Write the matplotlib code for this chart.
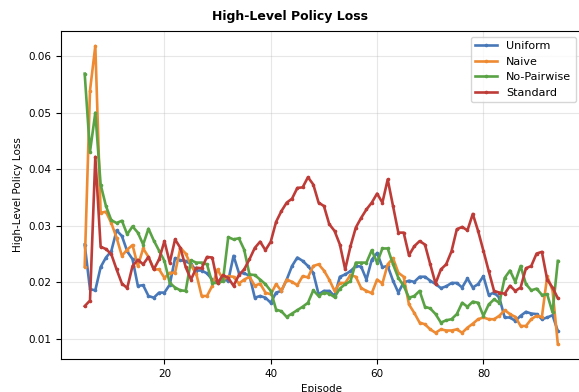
import numpy as np
import matplotlib
matplotlib.use("Agg")
import matplotlib.pyplot as plt

# episodes 5..94
episodes = list(range(5, 95))

uniform = [0.0267, 0.0188, 0.0186, 0.0227, 0.0244, 0.0255, 0.0292, 0.0282, 0.0255, 0.0241,
           0.0194, 0.0195, 0.0176, 0.0173, 0.0182, 0.0182, 0.0196, 0.0243, 0.0239, 0.0238,
           0.0232, 0.0221, 0.0221, 0.0216, 0.0205, 0.0200, 0.0205, 0.0203, 0.0247, 0.0217,
           0.0216, 0.0212, 0.0173, 0.0176, 0.0173, 0.0164, 0.0182, 0.0185, 0.0205, 0.0229,
           0.0244, 0.0238, 0.0229, 0.0217, 0.0179, 0.0185, 0.0185, 0.0176, 0.0210, 0.0214,
           0.0220, 0.0229, 0.0228, 0.0205, 0.0240, 0.0252, 0.0227, 0.0229, 0.0203, 0.0182,
           0.0200, 0.0203, 0.0201, 0.0210, 0.0210, 0.0203, 0.0197, 0.0190, 0.0193, 0.0199,
           0.0199, 0.0191, 0.0207, 0.0191, 0.0197, 0.0211, 0.0178, 0.0182, 0.0173, 0.0138,
           0.0138, 0.0132, 0.0141, 0.0148, 0.0145, 0.0144, 0.0135, 0.0138, 0.0142, 0.0114]

naive = [0.0228, 0.0539, 0.0618, 0.0323, 0.0325, 0.0305, 0.0279, 0.0247, 0.0258, 0.0266,
         0.0229, 0.0260, 0.0245, 0.0223, 0.0223, 0.0208, 0.0217, 0.0217, 0.0261, 0.0251,
         0.0230, 0.0215, 0.0176, 0.0176, 0.0194, 0.0223, 0.0205, 0.0211, 0.0210, 0.0198,
         0.0205, 0.0210, 0.0194, 0.0198, 0.0182, 0.0179, 0.0197, 0.0185, 0.0205, 0.0201,
         0.0195, 0.0211, 0.0209, 0.0229, 0.0232, 0.0221, 0.0205, 0.0185, 0.0199, 0.0199,
         0.0213, 0.0210, 0.0190, 0.0185, 0.0181, 0.0205, 0.0198, 0.0232, 0.0243, 0.0217,
         0.0210, 0.0161, 0.0146, 0.0129, 0.0126, 0.0117, 0.0111, 0.0117, 0.0115, 0.0115,
         0.0117, 0.0111, 0.0120, 0.0127, 0.0135, 0.0138, 0.0135, 0.0135, 0.0141, 0.0151,
         0.0144, 0.0139, 0.0123, 0.0123, 0.0135, 0.0141, 0.0139, 0.0211, 0.0186, 0.0091]

no_pairwise = [0.0569, 0.0431, 0.0500, 0.0373, 0.0335, 0.0310, 0.0305, 0.0309, 0.0285, 0.0299,
               0.0288, 0.0267, 0.0295, 0.0274, 0.0256, 0.0238, 0.0199, 0.0191, 0.0186, 0.0185,
               0.0239, 0.0235, 0.0235, 0.0232, 0.0199, 0.0199, 0.0202, 0.0280, 0.0276, 0.0278,
               0.0258, 0.0214, 0.0213, 0.0205, 0.0197, 0.0185, 0.0152, 0.0149, 0.0139, 0.0145,
               0.0151, 0.0157, 0.0164, 0.0186, 0.0176, 0.0182, 0.0180, 0.0174, 0.0189, 0.0197,
               0.0202, 0.0235, 0.0235, 0.0235, 0.0257, 0.0235, 0.0260, 0.0260, 0.0232, 0.0208,
               0.0194, 0.0173, 0.0176, 0.0185, 0.0157, 0.0154, 0.0144, 0.0129, 0.0133, 0.0135,
               0.0144, 0.0164, 0.0157, 0.0166, 0.0164, 0.0141, 0.0161, 0.0170, 0.0164, 0.0208,
               0.0221, 0.0201, 0.0229, 0.0197, 0.0186, 0.0189, 0.0178, 0.0179, 0.0147, 0.0238]

standard = [0.0158, 0.0168, 0.0422, 0.0263, 0.0259, 0.0250, 0.0223, 0.0198, 0.0190, 0.0229,
            0.0240, 0.0232, 0.0245, 0.0223, 0.0241, 0.0273, 0.0235, 0.0276, 0.0261, 0.0227,
            0.0205, 0.0226, 0.0225, 0.0245, 0.0244, 0.0199, 0.0213, 0.0208, 0.0194, 0.0213,
            0.0223, 0.0241, 0.0261, 0.0272, 0.0257, 0.0272, 0.0307, 0.0326, 0.0341, 0.0348,
            0.0367, 0.0368, 0.0386, 0.0373, 0.0341, 0.0335, 0.0303, 0.0291, 0.0267, 0.0223,
            0.0264, 0.0297, 0.0314, 0.0329, 0.0341, 0.0357, 0.0341, 0.0382, 0.0335, 0.0288,
            0.0288, 0.0248, 0.0264, 0.0273, 0.0267, 0.0232, 0.0198, 0.0223, 0.0232, 0.0255,
            0.0294, 0.0298, 0.0292, 0.0321, 0.0291, 0.0256, 0.0220, 0.0185, 0.0182, 0.0180,
            0.0194, 0.0185, 0.0191, 0.0225, 0.0229, 0.0251, 0.0254, 0.0205, 0.0191, 0.0172]

labels = ['Uniform', 'Naive', 'No-Pairwise', 'Standard']
colors = ['#4878b8', '#ee8a32', '#5aa345', '#be3c38']

fig = plt.figure(figsize=(5.79, 3.92), dpi=100)
ax = fig.add_axes([0.1054, 0.0842, 0.8989, 0.8367])

for ys, lab, col in zip([uniform, naive, no_pairwise, standard], labels, colors):
    ax.plot(episodes, ys, color=col, label=lab, linewidth=1.9, marker='o', markersize=1.6)

# title sits at the figure centre in the reference
fig.suptitle('High-Level Policy Loss', fontsize=9, fontweight='bold', x=0.5, y=0.975)
ax.set_xlabel('Episode', fontsize=7.5)
ax.set_ylabel('High-Level Policy Loss', fontsize=7.5)
ax.tick_params(labelsize=7.5)
ax.grid(True, alpha=0.3)
ax.legend(fontsize=8, loc='upper right')

fig.savefig('out.png', dpi=100)
